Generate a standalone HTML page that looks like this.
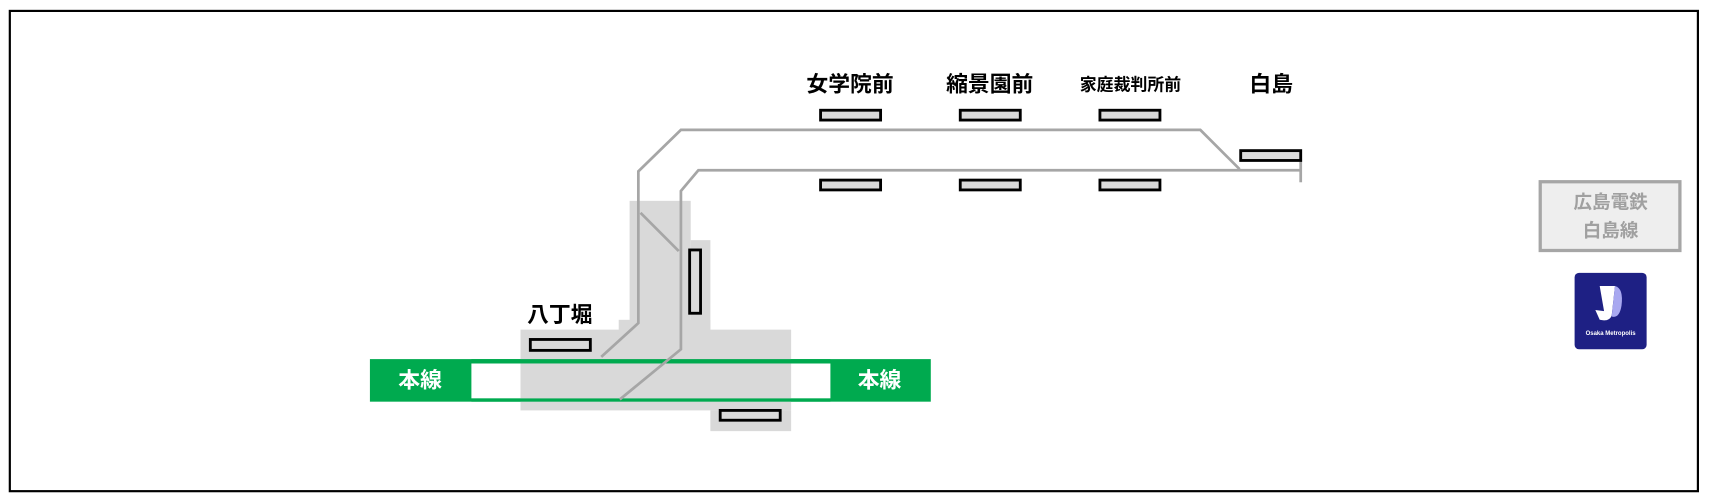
<!DOCTYPE html>
<html><head><meta charset="utf-8"><style>html,body{margin:0;padding:0;background:#fff}svg{display:block}</style></head><body>
<svg width="1711" height="501" viewBox="0 0 1568 459" preserveAspectRatio="none" xmlns="http://www.w3.org/2000/svg" font-family="'Liberation Sans','Noto Sans CJK JP',sans-serif">
<rect x="0" y="0" width="1568" height="459" fill="#fff"/>
<rect x="9" y="10" width="1547" height="440" fill="none" stroke="#000" stroke-width="2"/>
<g font-weight="bold" fill="#000" text-anchor="middle">
<text x="779" y="84" font-size="20">女学院前</text>
<text x="907" y="84" font-size="20">縮景園前</text>
<text x="1036" y="83" font-size="15.5">家庭裁判所前</text>
<text x="1165" y="84" font-size="20">白島</text>
<text x="513" y="295" font-size="20">八丁堀</text>
</g>
<g fill="#d9d9d9">
<rect x="577" y="184" width="56" height="118"/>
<rect x="633" y="220" width="18" height="83"/>
<rect x="567" y="293" width="84" height="10"/>
<rect x="339" y="329" width="514" height="39" fill="#00aa4f"/>
<rect x="432" y="333" width="329" height="32" fill="#fff"/>
<rect x="477" y="302" width="248" height="74"/>
<rect x="651" y="376" width="74" height="19"/>
</g>
<rect x="432" y="329" width="329" height="4" fill="#00aa4f"/>
<rect x="432" y="365" width="329" height="3" fill="#00aa4f"/>
<g font-weight="bold" fill="#fff" text-anchor="middle" font-size="20">
<text x="385" y="355">本線</text>
<text x="806" y="355">本線</text>
</g>
<g fill="none" stroke="#a6a6a6" stroke-width="2.5">
<polyline points="551,327 585,296 585,157 624,119 1100,119 1136,155"/>
<polyline points="568,366 624,320 624,175 640,156 1192,156"/>
<line x1="1192" y1="146" x2="1192" y2="167"/>
<line x1="587" y1="195" x2="622" y2="230"/>
</g>
<g fill="#d9d9d9" stroke="#000" stroke-width="2.6">
<rect x="752" y="101" width="55" height="9"/>
<rect x="880" y="101" width="55" height="9"/>
<rect x="1008" y="101" width="55" height="9"/>
<rect x="752" y="165" width="55" height="9"/>
<rect x="880" y="165" width="55" height="9"/>
<rect x="1008" y="165" width="55" height="9"/>
<rect x="1137" y="138" width="55" height="9"/>
<rect x="632" y="229" width="10" height="58"/>
<rect x="486" y="311" width="55" height="10"/>
<rect x="660" y="376" width="55" height="9"/>
</g>
<rect x="1411.5" y="166.5" width="128" height="63" fill="#eeeeee" stroke="#a6a6a6" stroke-width="3"/>
<g font-weight="bold" fill="#a0a0a0" text-anchor="middle" font-size="17">
<text x="1476" y="191">広島電鉄</text>
<text x="1476" y="217">白島線</text>
</g>
<rect x="1443" y="250" width="66" height="70" rx="4" fill="#1e2084"/>
<path d="M1466 262 L1480 262 L1477 289 Q1475 295 1466 293 L1462 284 L1470 285 Z" fill="#fff"/>
<path d="M1480 262 Q1488 264 1486 280 Q1484 292 1477 290 Z" fill="#a8a8f0"/>
<text x="1476" y="307" font-size="5.5" fill="#fff" text-anchor="middle" font-weight="bold">Osaka Metropolis</text>
</svg>
</body></html>
